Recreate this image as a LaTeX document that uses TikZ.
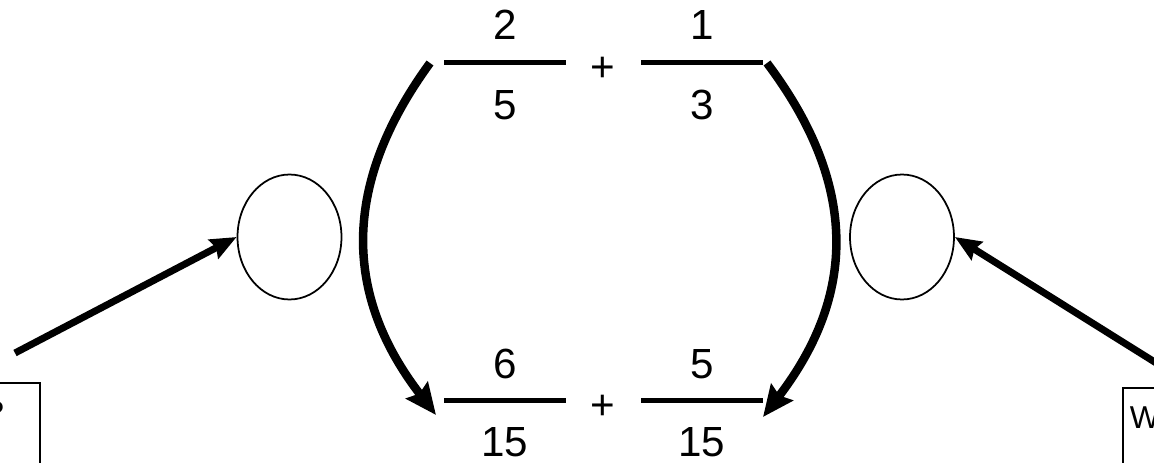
\documentclass[tikz,border=0pt]{standalone}
\usepackage{fontspec}
\setmainfont{Liberation Sans}
\usetikzlibrary{arrows.meta,shapes.geometric}

\begin{document}
\begin{tikzpicture}[x=0.02cm,y=-0.02cm,line cap=butt,
  num/.style={font=\fontsize{24}{28}\selectfont,inner sep=0pt},
  bar/.style={line width=0.1cm},
  arcarrow/.style={line width=0.17cm,-{Stealth[length=0.62cm,width=0.54cm,inset=0.08cm]}},
  pointer/.style={line width=0.14cm,-{Stealth[length=0.52cm,width=0.42cm,inset=0.06cm]}},
  slot/.style={draw,ellipse,line width=1pt,inner sep=0pt,minimum width=2.08cm,minimum height=2.5cm},
  tag/.style={draw,line width=1.1pt,font=\fontsize{18}{21}\selectfont,inner ysep=0.1cm,text height=0.72cm,text depth=2cm}]
\useasboundingbox (0,0) rectangle (1154,463);
\clip (0,0) rectangle (1154,463);
% top sum
\node[num] (n1) at (505,25) {2};
\node[num] (d1) at (505,105) {5};
\node[num] (p1) at (603,69) {+};
\node[num] (n2) at (702,25) {1};
\node[num] (d2) at (702,105) {3};
\draw[bar] (444,62) -- (566,62);
\draw[bar] (641,62) -- (763,62);
% bottom sum
\node[num] (n3) at (505,364) {6};
\node[num] (d3) at (505,442) {15};
\node[num] (p2) at (603,407) {+};
\node[num] (n4) at (702,364) {5};
\node[num] (d4) at (702,442) {15};
\draw[bar] (444,400) -- (566,400);
\draw[bar] (641,400) -- (763,400);
% the two arcs
\coordinate (la) at (430,63);
\coordinate (lb) at (436,415);
\coordinate (ra) at (767,63);
\coordinate (rb) at (763,417);
\draw[arcarrow] (la) .. controls (330,200) and (355,310) .. (lb);
\draw[arcarrow] (ra) .. controls (870,200) and (845,310) .. (rb);
% empty slots
\node[slot] (lslot) at (289.5,237) {};
\node[slot] (rslot) at (902,237) {};
% side boxes
\node[tag,anchor=north east,inner xsep=0.72cm] (qbox) at (41,382) {?};
\node[tag,anchor=north west,inner xsep=0.14cm] (wbox) at (1122,387) {W};
\coordinate (ltail) at (15,353);
\coordinate (rtail) at (1193,386);
\draw[pointer] (ltail) -- (lslot.west);
\draw[pointer] (rtail) -- (rslot.east);
\end{tikzpicture}
\end{document}
